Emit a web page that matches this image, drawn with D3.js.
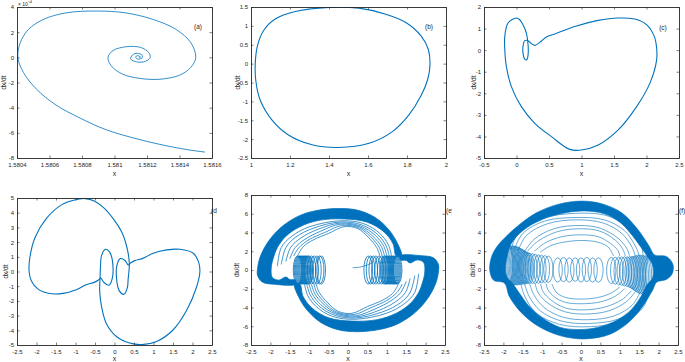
<!DOCTYPE html>
<html>
<head>
<meta charset="utf-8">
<script src="https://cdnjs.cloudflare.com/ajax/libs/d3/7.8.5/d3.min.js"></script>
<style>
    body { margin: 0; background: #fff; }
    svg text { font-family: "Liberation Sans", Arial, sans-serif; fill: #262626; }
</style>
</head>
<body>
<div id="chart"></div>
<script>

// ---- data (x, dx/dt) ----

// (a) spiral, dx/dt in units of 1e-3
let spiralA = [[1.581557,-7.53],[1.58144,-7.32],[1.58128,-6.92],[1.58112,-6.42],[1.58095,-5.76],[1.58079,-4.84],
    [1.58064,-3.79],[1.58052,-2.53],[1.58044,-1.21],[1.580405,0],[1.58042,1.16],[1.58047,2.21],[1.58056,3.0],
    [1.5807,3.53],[1.58089,3.68],[1.58107,3.53],[1.58124,3.0],[1.58138,2.21],[1.58147,1.16],[1.5815,0],
    [1.58147,-0.79],[1.5814,-1.42],[1.58128,-1.74],[1.58116,-1.68],[1.58105,-1.34],[1.58098,-0.68],[1.58096,0],
    [1.58099,0.53],[1.58107,0.84],[1.58116,0.79],[1.58121,0.39],[1.58122,0],[1.5812,-0.26],[1.58115,-0.39],
    [1.5811,-0.13],[1.58111,0.18],[1.58114,0.32],[1.58117,0.18],[1.58117,-0.05],[1.58114,-0.13],[1.58113,0.03],
    [1.58114,0.13],[1.58116,0.03],[1.58115,-0.03]];

// (b) limit cycle
let loopB = [[1.399,1.49],[1.553,1.47],[1.691,1.31],[1.794,1.09],[1.871,0.74],[1.909,0.38],[1.918,-0.02],
    [1.906,-0.42],[1.871,-0.86],[1.811,-1.35],[1.725,-1.8],[1.605,-2.11],[1.45,-2.22],[1.313,-2.15],[1.192,-1.89],
    [1.107,-1.49],[1.046,-0.95],[1.024,-0.42],[1.022,0.02],[1.033,0.47],[1.064,0.87],[1.124,1.18],[1.227,1.38]];

// (c) period-2 cycle
let loopC = [[0.0,1.49],[-0.13,1.26],[-0.18,0.64],[-0.18,0.02],[-0.156,-0.76],[-0.079,-1.69],[0.075,-2.62],
    [0.281,-3.39],[0.538,-4.01],[0.82,-4.6],[1.0,-4.63],[1.257,-4.4],[1.565,-3.7],[1.848,-2.62],[2.053,-1.53],
    [2.156,-0.45],[2.156,0.1],[2.12,0.64],[2.0,1.18],[1.82,1.44],[1.565,1.49],[1.257,1.38],[0.897,1.1],
    [0.589,0.75],[0.46,0.61],[0.358,0.36],[0.281,0.22],[0.23,0.3],[0.178,0.44],[0.127,0.44],[0.1,0.17],
    [0.1,-0.14],[0.127,-0.42],[0.158,-0.45],[0.178,-0.22],[0.178,0.25],[0.152,0.79],[0.1,1.18],[0.05,1.41]];

// (d) symmetric cycle
let orbitD = [[-2.19,0.0],[-2.17,0.95],[-2.04,2.3],[-1.75,3.6],[-1.35,4.55],[-1.05,4.85],[-0.75,4.96],[-0.52,4.8],
    [-0.28,4.35],[-0.02,3.55],[0.2,2.6],[0.33,1.5],[0.38,0.55],[0.37,0.0],[0.35,-0.5],[0.33,-1.1],[0.24,-1.55],
    [0.12,-1.3],[0.05,-0.4],[0.06,0.4],[0.15,0.88],[0.27,0.75],[0.35,0.45],[0.42,0.6],[0.52,0.74],[0.74,0.91],
    [0.99,1.24],[1.34,1.47],[1.68,1.51],[2.02,1.24],[2.15,0.69],[2.19,0.0],[2.1,-1.09],[1.85,-2.64],[1.5,-3.98],
    [1.08,-4.76],[0.7,-4.97],[0.39,-4.87],[0.05,-4.42],[-0.21,-3.53],[-0.33,-2.42],[-0.38,-1.31],[-0.37,-0.4],
    [-0.36,0.3],[-0.33,1.1],[-0.23,1.51],[-0.11,1.25],[-0.04,0.4],[-0.06,-0.5],[-0.14,-0.93],[-0.27,-0.75],
    [-0.35,-0.45],[-0.42,-0.6],[-0.52,-0.74],[-0.74,-0.92],[-0.98,-1.24],[-1.32,-1.49],[-1.66,-1.5],[-1.96,-1.2],
    [-2.13,-0.64]];

// (e) chaotic: dense bands, inner strands, coils [cx, cy, rx, ry]
let eUpperBand = [[-1.35,-1.52],[-1.9,-1.52],[-2.2,-1.3],[-2.33,-0.6],[-2.33,0.2],[-2.28,1.2],[-2.15,2.4],
    [-1.95,3.6],[-1.65,4.8],[-1.25,5.8],[-0.8,6.35],[-0.25,6.55],[0.25,6.38],[0.7,5.6],[1.05,4.3],[1.28,2.8],
    [1.38,1.52],[1.24,1.52],[1.16,2.8],[0.93,4.05],[0.5,5.1],[-0.1,5.45],[-0.75,5.3],[-1.25,4.6],[-1.6,3.6],
    [-1.82,2.4],[-1.93,1.2],[-1.98,0.2],[-1.95,-0.8],[-1.78,-1.08],[-1.6,-0.75],[-1.5,-1.02],[-1.35,-1.08]];
let eLowerBand = [[1.35,1.52],[1.9,1.52],[2.2,1.3],[2.33,0.6],[2.33,-0.2],[2.28,-1.2],[2.15,-2.4],
    [1.95,-3.6],[1.65,-4.8],[1.25,-5.8],[0.8,-6.35],[0.25,-6.58],[-0.25,-6.38],[-0.7,-5.6],[-1.05,-4.3],[-1.28,-2.8],
    [-1.38,-1.52],[-1.24,-1.52],[-1.16,-2.8],[-0.93,-4.05],[-0.5,-5.1],[0.1,-5.45],[0.75,-5.3],[1.25,-4.6],[1.6,-3.6],
    [1.82,-2.4],[1.93,-1.2],[1.98,-0.2],[1.95,0.8],[1.78,1.08],[1.6,0.75],[1.5,1.02],[1.35,1.08]];
let eStrands = [
    [[-1.82,0.4],[-1.72,2.4],[-1.45,3.6],[-1.0,4.6],[-0.2,5.25],[0.4,4.95],[0.82,3.9],[1.04,2.7],[1.12,1.52]],
    [[-1.72,0.6],[-1.6,2.4],[-1.35,3.5],[-0.9,4.45],[-0.2,5.12],[0.35,4.82],[0.76,3.8],[0.98,2.6],[1.06,1.52]],
    [[-1.6,0.9],[-1.48,2.4],[-1.22,3.4],[-0.8,4.3],[-0.2,5.0],[0.32,4.7],[0.7,3.7],[0.92,2.55],[1.0,1.52]],
    [[-1.5,1.2],[-1.36,2.4],[-1.1,3.3],[-0.7,4.15],[-0.2,4.88],[0.3,4.6],[0.64,3.6],[0.86,2.5],[0.94,1.52]],
    [[-1.4,1.5],[-1.26,2.4],[-1.0,3.25],[-0.6,4.0],[-0.15,4.75],[0.28,4.5],[0.58,3.55],[0.8,2.45],[0.88,1.52]],
    [[-1.3,1.52],[-1.15,2.5],[-0.9,3.2],[-0.5,3.9],[-0.1,4.62],[0.25,4.42],[0.52,3.5],[0.74,2.4],[0.82,1.52]],
    [[1.82,-0.4],[1.72,-2.4],[1.45,-3.6],[1.0,-4.6],[0.2,-5.25],[-0.4,-4.95],[-0.82,-3.9],[-1.04,-2.7],[-1.12,-1.52]],
    [[1.72,-0.6],[1.6,-2.4],[1.35,-3.5],[0.9,-4.45],[0.2,-5.12],[-0.35,-4.82],[-0.76,-3.8],[-0.98,-2.6],[-1.06,-1.52]],
    [[1.6,-0.9],[1.48,-2.4],[1.22,-3.4],[0.8,-4.3],[0.2,-5.0],[-0.32,-4.7],[-0.7,-3.7],[-0.92,-2.55],[-1.0,-1.52]],
    [[1.5,-1.2],[1.36,-2.4],[1.1,-3.3],[0.7,-4.15],[0.2,-4.88],[-0.3,-4.6],[-0.64,-3.6],[-0.86,-2.5],[-0.94,-1.52]],
    [[1.4,-1.5],[1.26,-2.4],[1.0,-3.25],[0.6,-4.0],[0.15,-4.75],[-0.28,-4.5],[-0.58,-3.55],[-0.8,-2.45],[-0.88,-1.52]],
    [[1.3,-1.52],[1.15,-2.5],[0.9,-3.2],[0.5,-3.9],[0.1,-4.62],[-0.25,-4.42],[-0.52,-3.5],[-0.74,-2.4],[-0.82,-1.52]]
];
let eCoils = [[-1.3,0,0.11,1.5],[-1.275,0,0.11,1.5],[-1.25,0,0.11,1.5],[-1.225,0,0.11,1.5],[-1.2,0,0.11,1.5],
    [-1.175,0,0.11,1.5],[-1.15,0,0.11,1.5],[-1.125,0,0.11,1.5],[-1.1,0,0.11,1.5],[-1.075,0,0.11,1.5],
    [-1.05,0,0.11,1.5],[-1.025,0,0.11,1.5],[-1.0,0,0.11,1.5],[-0.94,0,0.11,1.5],[-0.87,0,0.11,1.5],
    [-0.8,0,0.11,1.5],[-0.73,0,0.11,1.5],[-0.69,0,0.11,1.5],
    [0.52,0,0.11,1.5],[0.58,0,0.11,1.5],[0.65,0,0.11,1.5],[0.72,0,0.11,1.5],[0.8,0,0.11,1.5],[0.87,0,0.11,1.5],
    [0.93,0,0.11,1.5],[0.955,0,0.11,1.5],[0.98,0,0.11,1.5],[1.005,0,0.11,1.5],[1.03,0,0.11,1.5],[1.055,0,0.11,1.5],
    [1.08,0,0.11,1.5],[1.105,0,0.11,1.5],[1.13,0,0.11,1.5],[1.155,0,0.11,1.5],[1.18,0,0.11,1.5],[1.205,0,0.11,1.5],
    [1.23,0,0.11,1.5],[1.255,0,0.11,1.5],[1.28,0,0.11,1.5]];
let eTransient = [[0.12,0.25],[0.3,0.3],[0.5,0.55],[0.62,0.75]];

// (f) chaotic: outer ring (outline + hole), inner arcs, coils [cx, cy, rx, ry]
let fOuter = [[-2.35,-0.1],[-2.32,1.2],[-2.2,2.3],[-1.95,3.5],[-1.6,4.8],[-1.15,6.1],[-0.6,7.0],[0.02,7.35],
    [0.55,7.05],[1.05,6.1],[1.45,4.4],[1.75,2.6],[1.9,1.6],[2.2,1.45],[2.37,0.6],[2.35,-0.4],[2.2,-1.0],
    [1.95,-1.3],[1.85,-2.1],[1.6,-3.8],[1.25,-5.5],[0.75,-6.85],[0.1,-7.35],[-0.5,-7.05],[-1.1,-6.0],
    [-1.55,-4.5],[-1.85,-2.8],[-1.97,-1.4],[-2.25,-1.1]];
let fHole = [[-1.95,0.0],[-1.9,1.5],[-1.8,2.8],[-1.5,4.2],[-1.0,5.4],[-0.4,6.1],[0.1,6.3],[0.6,6.0],[1.0,5.1],
    [1.3,3.8],[1.55,2.4],[1.7,1.5],[1.85,0.5],[1.85,-0.8],[1.7,-1.6],[1.55,-2.8],[1.3,-4.2],[0.95,-5.3],
    [0.45,-6.1],[-0.05,-6.35],[-0.55,-6.1],[-1.0,-5.1],[-1.35,-3.8],[-1.6,-2.4],[-1.75,-1.5],[-1.9,-0.8]];
let fArcs = [
    [[-1.8,2.2],[-1.62,4.0],[-1.05,5.45],[-0.1,6.05],[0.7,5.75],[1.25,4.4],[1.55,2.6],[1.6,1.5]],
    [[-1.72,2.2],[-1.5,3.9],[-0.95,5.2],[-0.15,5.6],[0.6,5.35],[1.12,4.2],[1.42,2.4],[1.5,1.5]],
    [[-1.62,2.1],[-1.4,3.7],[-0.85,4.95],[-0.1,5.35],[0.58,5.0],[1.05,3.9],[1.32,2.4],[1.4,1.5]],
    [[-1.45,2.0],[-1.2,3.3],[-0.7,4.4],[-0.05,4.75],[0.5,4.45],[0.95,3.4],[1.18,2.3],[1.25,1.5]],
    [[-1.38,2.0],[-1.1,3.1],[-0.6,4.1],[0.0,4.4],[0.48,4.15],[0.88,3.2],[1.08,2.2],[1.14,1.5]],
    [[-1.2,2.0],[-0.92,2.9],[-0.5,3.55],[0.0,3.75],[0.45,3.55],[0.75,2.85],[0.95,2.1],[1.0,1.5]],
    [[-1.05,1.9],[-0.78,2.6],[-0.4,3.0],[0.05,3.15],[0.45,2.95],[0.7,2.45],[0.84,1.5]],
    [[1.75,-2.5],[1.58,-4.1],[1.05,-5.5],[0.2,-6.05],[-0.55,-5.8],[-1.15,-4.6],[-1.45,-2.8],[-1.55,-1.5]],
    [[1.64,-2.4],[1.46,-3.95],[0.95,-5.25],[0.2,-5.7],[-0.5,-5.45],[-1.05,-4.35],[-1.35,-2.7],[-1.45,-1.5]],
    [[1.52,-2.4],[1.32,-3.75],[0.85,-4.9],[0.2,-5.3],[-0.45,-5.05],[-0.95,-4.0],[-1.22,-2.6],[-1.32,-1.5]],
    [[1.4,-2.3],[1.18,-3.35],[0.72,-4.35],[0.12,-4.7],[-0.42,-4.45],[-0.85,-3.55],[-1.1,-2.45],[-1.18,-1.5]],
    [[1.3,-2.2],[1.06,-3.15],[0.62,-3.95],[0.08,-4.25],[-0.4,-4.05],[-0.76,-3.25],[-0.98,-2.3],[-1.04,-1.5]],
    [[1.12,-2.0],[0.88,-2.8],[0.5,-3.4],[0.02,-3.6],[-0.4,-3.45],[-0.68,-2.9],[-0.85,-2.1],[-0.9,-1.5]],
    [[1.0,-1.8],[0.78,-2.45],[0.42,-2.95],[0.0,-3.1],[-0.38,-2.95],[-0.62,-2.45],[-0.75,-1.5]]
];
let fCoils = [[-1.88,0.5,0.12,2.0],[-1.85,0.5,0.12,2.02],[-1.82,0.5,0.12,2.04],[-1.79,0.5,0.12,2.06],
    [-1.76,0.5,0.12,2.08],[-1.73,0.5,0.12,2.1],[-1.7,0.48,0.12,2.08],[-1.67,0.46,0.12,2.06],[-1.64,0.44,0.12,2.04],
    [-1.61,0.42,0.12,2.0],[-1.58,0.4,0.12,1.96],[-1.55,0.37,0.12,1.92],[-1.52,0.34,0.12,1.87],[-1.49,0.31,0.12,1.82],
    [-1.46,0.28,0.12,1.77],[-1.43,0.25,0.12,1.72],[-1.4,0.23,0.12,1.68],[-1.36,0.2,0.12,1.65],[-1.32,0.18,0.12,1.62],
    [-1.25,0.15,0.12,1.6],[-1.18,0.12,0.12,1.56],[-1.1,0.1,0.12,1.52],[-1.02,0.1,0.12,1.48],[-0.93,0.1,0.12,1.44],
    [-0.84,0.08,0.12,1.4],
    [-0.6,0.0,0.12,1.3],[-0.45,0.05,0.12,1.3],[-0.3,0.0,0.12,1.3],[-0.15,0.05,0.12,1.25],[0.0,0.0,0.12,1.3],
    [0.15,0.05,0.12,1.3],[0.3,0.0,0.12,1.3],[0.45,0.0,0.12,1.3],
    [0.78,-0.05,0.12,1.4],[0.88,-0.08,0.12,1.44],[0.97,-0.1,0.12,1.48],[1.05,-0.12,0.12,1.52],[1.12,-0.15,0.12,1.56],
    [1.19,-0.18,0.12,1.6],[1.25,-0.22,0.12,1.65],[1.3,-0.26,0.12,1.7],[1.34,-0.3,0.12,1.76],[1.38,-0.34,0.12,1.84],
    [1.42,-0.38,0.12,1.92],[1.46,-0.42,0.12,2.0],[1.5,-0.45,0.12,2.05],[1.54,-0.48,0.12,2.07],[1.58,-0.5,0.12,2.07],
    [1.62,-0.5,0.12,2.05],[1.66,-0.5,0.12,2.03],[1.7,-0.5,0.12,2.0],[1.74,-0.5,0.12,1.96],[1.78,-0.5,0.12,1.92]];

// ---- tick values ----
let ticksAX = [1.5804, 1.5806, 1.5808, 1.581, 1.5812, 1.5814, 1.5816];
let ticksAY = [-8, -6, -4, -2, 0, 2, 4];
let ticksBX = [1, 1.2, 1.4, 1.6, 1.8, 2];
let ticksBY = [-2.5, -2, -1.5, -1, -0.5, 0, 0.5, 1, 1.5];
let ticksCX = [-0.5, 0, 0.5, 1, 1.5, 2, 2.5];
let ticksCY = [-5, -4, -3, -2, -1, 0, 1, 2];
let ticksWideX = [-2.5, -2, -1.5, -1, -0.5, 0, 0.5, 1, 1.5, 2, 2.5];
let ticksDY = [-5, -4, -3, -2, -1, 0, 1, 2, 3, 4, 5];
let ticksEY = [-8, -6, -4, -2, 0, 2, 4, 6, 8];

// ---- drawing ----
const blue = "#0072bd";
const ink = "#262626";
const svg = d3.select("#chart").append("svg").attr("width", 685).attr("height", 362);
const fmt = d => String(d);

function makePanel(cfg) {
    let [l, t, r, b] = cfg.box;
    let p = {};
    p.x = d3.scaleLinear().domain(cfg.xDomain).range([l, r]);
    p.y = d3.scaleLinear().domain(cfg.yDomain).range([b, t]);

    svg.append("clipPath").attr("id", "clip-" + cfg.id)
        .append("rect").attr("x", l).attr("y", t).attr("width", r - l).attr("height", b - t);

    p.plot = svg.append("g").attr("clip-path", `url(#clip-${cfg.id})`);
    p.line = d3.line().x(d => p.x(d[0])).y(d => p.y(d[1])).curve(d3.curveCatmullRom.alpha(0.5));
    p.closed = d3.line().x(d => p.x(d[0])).y(d => p.y(d[1])).curve(d3.curveCatmullRomClosed.alpha(0.5));

    // axes drawn afterwards so the box sits on top of the data
    p.finish = function () {
        let ax = svg.append("g");
        ax.append("g").attr("transform", `translate(0,${b})`)
            .call(d3.axisBottom(p.x).tickValues(cfg.xTicks).tickSizeInner(-2.5).tickSizeOuter(0).tickPadding(4.5).tickFormat(fmt));
        ax.append("g").attr("transform", `translate(${l},0)`)
            .call(d3.axisLeft(p.y).tickValues(cfg.yTicks).tickSizeInner(-2.5).tickSizeOuter(0).tickPadding(3).tickFormat(fmt));
        ax.append("g").attr("transform", `translate(0,${t})`)
            .call(d3.axisTop(p.x).tickValues(cfg.xTicks).tickSizeInner(-2.5).tickSizeOuter(0).tickFormat(""));
        ax.append("g").attr("transform", `translate(${r},0)`)
            .call(d3.axisRight(p.y).tickValues(cfg.yTicks).tickSizeInner(-2.5).tickSizeOuter(0).tickFormat(""));
        ax.selectAll("g").attr("font-family", null).attr("font-size", 6);
        ax.selectAll("path.domain").attr("stroke", ink).attr("stroke-width", 0.9);
        ax.selectAll(".tick line").attr("stroke", ink).attr("stroke-width", 0.6);
        ax.selectAll(".tick text").attr("fill", ink);

        // axis titles
        svg.append("text").attr("x", (l + r) / 2).attr("y", cfg.xLabelY)
            .attr("text-anchor", "middle").attr("font-size", 7).text("x");
        svg.append("text")
            .attr("transform", `translate(${cfg.yLabelX},${(t + b) / 2}) rotate(-90)`)
            .attr("text-anchor", "middle").attr("dy", "0.35em").attr("font-size", 6.5).text("dx/dt");

        // panel letter
        let lab = svg.append("text").attr("x", cfg.tag[0]).attr("y", cfg.tag[1])
            .attr("text-anchor", cfg.tagAnchor || "middle").attr("font-size", 6.5).text(cfg.tagText);
        if (cfg.tagClip) {
            svg.append("clipPath").attr("id", "tag-" + cfg.id)
                .append("rect").attr("x", 0).attr("y", 0).attr("width", cfg.tagClip).attr("height", 362);
            lab.attr("clip-path", `url(#tag-${cfg.id})`);
        }
    };
    return p;
}

function drawCoils(p, coils, width) {
    p.plot.selectAll(null).data(coils).enter().append("ellipse")
        .attr("cx", d => p.x(d[0]))
        .attr("cy", d => p.y(d[1]))
        .attr("rx", d => p.x(d[0] + d[2]) - p.x(d[0]))
        .attr("ry", d => p.y(d[1]) - p.y(d[1] + d[3]))
        .attr("fill", "none").attr("stroke", blue).attr("stroke-width", width);
}

// (a)
let pa = makePanel({id: "a", box: [17, 7, 212, 158], xDomain: [1.5804, 1.5816], yDomain: [-8, 4],
    xTicks: ticksAX, yTicks: ticksAY, xLabelY: 175.5, yLabelX: 4, tag: [198, 29], tagText: "(a)"});
pa.plot.append("path").attr("d", pa.line(spiralA))
    .attr("fill", "none").attr("stroke", blue).attr("stroke-width", 0.8);
pa.finish();
svg.append("text").attr("x", 18).attr("y", 6).attr("font-size", 5).text("× 10");
svg.append("text").attr("x", 28).attr("y", 2.8).attr("font-size", 4.5).text("-3");

// (b)
let pb = makePanel({id: "b", box: [251, 7, 446, 158], xDomain: [1, 2], yDomain: [-2.5, 1.5],
    xTicks: ticksBX, yTicks: ticksBY, xLabelY: 175.5, yLabelX: 238, tag: [429, 29], tagText: "(b)"});
pb.plot.append("path").attr("d", pb.closed(loopB))
    .attr("fill", "none").attr("stroke", blue).attr("stroke-width", 1.1);
pb.finish();

// (c)
let pc = makePanel({id: "c", box: [484, 7, 679, 158], xDomain: [-0.5, 2.5], yDomain: [-5, 2],
    xTicks: ticksCX, yTicks: ticksCY, xLabelY: 175.5, yLabelX: 474, tag: [663, 30], tagText: "(c)"});
pc.plot.append("path").attr("d", pc.closed(loopC))
    .attr("fill", "none").attr("stroke", blue).attr("stroke-width", 1.1);
pc.finish();

// (d)
let pd = makePanel({id: "d", box: [17, 198, 212, 345], xDomain: [-2.5, 2.5], yDomain: [-5, 5],
    xTicks: ticksWideX, yTicks: ticksDY, xLabelY: 361, yLabelX: 6, tag: [211, 213], tagText: "(d)",
    tagAnchor: "start", tagClip: 217});
pd.plot.append("path").attr("d", pd.closed(orbitD))
    .attr("fill", "none").attr("stroke", blue).attr("stroke-width", 1.1);
pd.finish();

// (e)
let pe = makePanel({id: "e", box: [251, 195, 445, 345], xDomain: [-2.5, 2.5], yDomain: [-8, 8],
    xTicks: ticksWideX, yTicks: ticksEY, xLabelY: 361, yLabelX: 237, tag: [446, 213], tagText: "(e)",
    tagAnchor: "start", tagClip: 452});
[eUpperBand, eLowerBand].forEach(band => {
    pe.plot.append("path").attr("d", pe.closed(band))
        .attr("fill", blue).attr("stroke", blue).attr("stroke-width", 0.8);
});
pe.plot.selectAll(null).data(eStrands).enter().append("path")
    .attr("d", pe.line).attr("fill", "none").attr("stroke", blue).attr("stroke-width", 0.75);
drawCoils(pe, eCoils, 0.8);
pe.plot.append("path").attr("d", pe.line(eTransient))
    .attr("fill", "none").attr("stroke", blue).attr("stroke-width", 0.7);
pe.finish();

// (f)
let pf = makePanel({id: "f", box: [484, 195, 678, 345], xDomain: [-2.5, 2.5], yDomain: [-8, 8],
    xTicks: ticksWideX, yTicks: ticksEY, xLabelY: 361, yLabelX: 473, tag: [679, 213], tagText: "(f)",
    tagAnchor: "start"});
pf.plot.append("path").attr("d", pf.closed(fOuter) + pf.closed(fHole))
    .attr("fill", blue).attr("fill-rule", "evenodd").attr("stroke", blue).attr("stroke-width", 0.6);
pf.plot.selectAll(null).data(fArcs).enter().append("path")
    .attr("d", pf.line).attr("fill", "none").attr("stroke", blue).attr("stroke-width", 0.6);
drawCoils(pf, fCoils, 0.6);
pf.finish();

</script>
</body>
</html>
